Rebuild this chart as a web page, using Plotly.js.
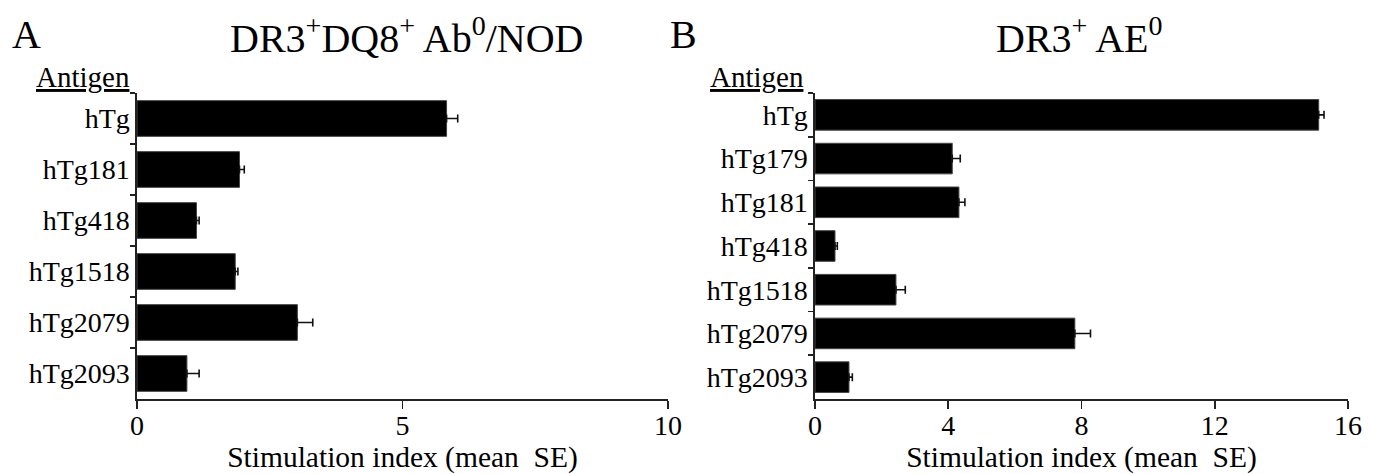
<!DOCTYPE html>
<html>
<head>
<meta charset="utf-8">
<script src="https://cdn.plot.ly/plotly-3.0.1.min.js"></script>
<style>html,body{margin:0;padding:0;background:#fff;}#chart{width:1373px;height:474px;}</style>
</head>
<body>
<div id="chart"></div>
<script>
// Panel A: DR3+DQ8+ Ab0/NOD
const antigensA = ['hTg','hTg181','hTg418','hTg1518','hTg2079','hTg2093'];
const meanA = [5.83, 1.93, 1.12, 1.85, 3.02, 0.94];
const seA = [0.21, 0.09, 0.05, 0.05, 0.29, 0.23];
const ticksA = [0, 5, 10];

// Panel B: DR3+ AE0
const antigensB = ['hTg','hTg179','hTg181','hTg418','hTg1518','hTg2079','hTg2093'];
const meanB = [15.12, 4.12, 4.32, 0.60, 2.43, 7.80, 1.02];
const seB = [0.16, 0.24, 0.18, 0.07, 0.28, 0.47, 0.10];
const ticksB = [0, 4, 8, 12, 16];

const titleA = 'DR3<sup>+</sup>DQ8<sup>+</sup> Ab<sup>0</sup>/NOD';
const titleB = 'DR3<sup>+</sup> AE<sup>0</sup>';
const xTitle = 'Stimulation index (mean\u00a0 SE)';

const FONT = 'Liberation Serif, Times New Roman, serif';

function barTrace(cats, vals, errs, xa, ya) {
  return {
    type: 'bar', orientation: 'h',
    y: cats, x: vals,
    xaxis: xa, yaxis: ya,
    width: 0.7,
    marker: {color: '#000', line: {color: '#444', width: 1}},
    error_x: {type: 'data', array: errs, arrayminus: errs.map(() => 0), symmetric: false,
              color: '#111', thickness: 1.6, width: 4},
    hoverinfo: 'none'
  };
}

const data = [
  barTrace(antigensA, meanA, seA, 'x', 'y'),
  barTrace(antigensB, meanB, seB, 'x2', 'y2')
];

const yTop = 1 - 93/474, yBot = 1 - 399/474;

function xAxis(domain, ticks, anchor) {
  return {
    domain: domain, anchor: anchor,
    range: [0, ticks[ticks.length-1]],
    tickmode: 'array', tickvals: ticks, ticktext: ticks.map(String),
    ticks: 'outside', ticklen: 8, tickwidth: 1.6, tickcolor: '#222',
    ticklabelstandoff: -7,
    showline: true, linecolor: '#222', linewidth: 1.6,
    showgrid: false, zeroline: false,
    tickfont: {family: FONT, size: 28, color: '#000'},
    title: {text: xTitle, font: {family: FONT, size: 29.5, color: '#000'}, standoff: 1}
  };
}
function yAxis(domain, cats, anchor) {
  return {
    domain: domain, anchor: anchor,
    type: 'category',
    range: [cats.length - 0.5, -0.5],
    tickson: 'boundaries',
    ticks: 'outside', ticklen: 5, tickwidth: 1.6, tickcolor: '#222',
    showline: true, linecolor: '#222', linewidth: 1.6,
    showgrid: false, zeroline: false,
    tickfont: {family: FONT, size: 28, color: '#000'}
  };
}

const layout = {
  width: 1373, height: 474,
  margin: {l: 0, r: 0, t: 0, b: 0},
  paper_bgcolor: '#fff', plot_bgcolor: '#fff',
  showlegend: false,
  bargap: 0.3,
  xaxis: xAxis([137/1373, 668/1373], ticksA, 'y'),
  yaxis: yAxis([yBot, yTop], antigensA, 'x'),
  xaxis2: xAxis([815/1373, 1348/1373], ticksB, 'y2'),
  yaxis2: yAxis([yBot, yTop], antigensB, 'x2'),
  annotations: [
    {text: 'A', x: 10/1373, y: 1 - 35/474, xref: 'paper', yref: 'paper', xanchor: 'left', yanchor: 'middle', showarrow: false,
     font: {family: FONT, size: 40, color: '#000'}},
    {text: 'B', x: 668/1373, y: 1 - 35/474, xref: 'paper', yref: 'paper', xanchor: 'left', yanchor: 'middle', showarrow: false,
     font: {family: FONT, size: 40, color: '#000'}},
    {text: titleA, x: 406/1373, y: 1 - 36/474, xref: 'paper', yref: 'paper', xanchor: 'center', yanchor: 'middle', showarrow: false,
     font: {family: FONT, size: 40, color: '#000'}},
    {text: titleB, x: 1079/1373, y: 1 - 36/474, xref: 'paper', yref: 'paper', xanchor: 'center', yanchor: 'middle', showarrow: false,
     font: {family: FONT, size: 40, color: '#000'}},
    {text: '<u>Antigen</u>', x: 132/1373, y: 1 - 77/474, xref: 'paper', yref: 'paper', xanchor: 'right', yanchor: 'middle', showarrow: false,
     font: {family: FONT, size: 29, color: '#000'}},
    {text: '<u>Antigen</u>', x: 806/1373, y: 1 - 77/474, xref: 'paper', yref: 'paper', xanchor: 'right', yanchor: 'middle', showarrow: false,
     font: {family: FONT, size: 29, color: '#000'}}
  ]
};

Plotly.newPlot('chart', data, layout, {staticPlot: true, displayModeBar: false});
</script>
</body>
</html>
